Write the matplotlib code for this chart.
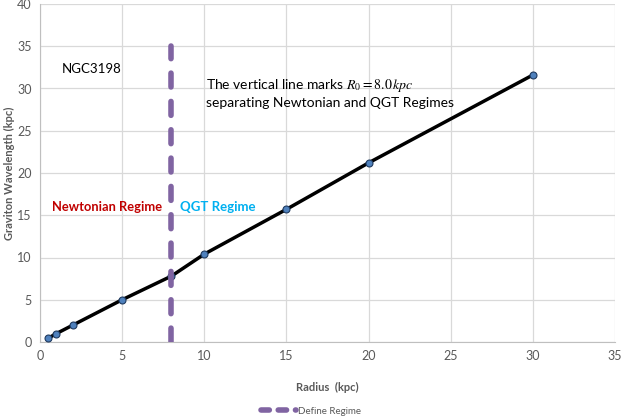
import numpy as np
import matplotlib.pyplot as plt

plt.rcParams['font.family'] = ['Lato', 'DejaVu Sans']
plt.rcParams['mathtext.fontset'] = 'stix'

# Graviton wavelength vs radius, NGC3198
radius = [0.5, 1, 2, 5, 8, 10, 15, 20, 30]
wavelength = [0.45, 1.0, 2.0, 5.0, 7.8, 10.4, 15.7, 21.2, 31.6]

regime_x = [8, 8]
regime_y = [0, 35]

grey = '#595959'
grid_col = '#D9D9D9'

fig = plt.figure(figsize=(6.22, 4.18), dpi=100)
ax = fig.add_axes([40 / 622, 76 / 418, 575 / 622, 338 / 418])

ax.plot(radius, wavelength, color='black', lw=2.5, marker='o', ms=5,
        mfc='#4F81BD', mec='#1F3A5F', mew=0.8, zorder=3)
ax.plot(regime_x, regime_y, color='#8064A2', lw=4, ls=(0, (2.5, 2.6)),
        dash_capstyle='round', zorder=4, label='Define Regime')

ax.set_xlim(0, 35)
ax.set_ylim(0, 40)
ax.set_xticks(np.arange(0, 36, 5))
ax.set_yticks(np.arange(0, 41, 5))
ax.grid(True, color=grid_col, lw=0.9)
ax.set_axisbelow(True)
for s in ['top', 'right']:
    ax.spines[s].set_visible(False)
for s in ['left', 'bottom']:
    ax.spines[s].set_color('#BFBFBF')
ax.tick_params(length=0, colors=grey, labelsize=9, pad=6)

ax.set_xlabel('Radius  (kpc)', fontsize=8, fontweight='bold', color=grey)
ax.xaxis.set_label_coords(0.5, -40 / 338)
ax.set_ylabel('Graviton Wavelength (kpc)', fontsize=8, fontweight='bold', color=grey)
ax.yaxis.set_label_coords(-25 / 575, 0.5)

ax.text(1.35, 32.3, 'NGC3198', fontsize=9.5, color='black', va='center')
ax.text(10.1, 30.3, r'The vertical line marks $R_0=8.0\,kpc$', fontsize=10, va='center')
ax.text(10.1, 28.3, 'separating Newtonian and QGT Regimes', fontsize=10, va='center')
ax.text(0.75, 16.0, 'Newtonian Regime', fontsize=9.3, fontweight='bold', color='#C00000', va='center')
ax.text(8.5, 16.0, 'QGT Regime', fontsize=9.5, fontweight='bold', color='#00B0F0', va='center')

leg = fig.legend(loc='center', bbox_to_anchor=(0.5, 7 / 418), frameon=False, fontsize=7,
                 handlelength=3.6, handletextpad=0.3)
for t in leg.get_texts():
    t.set_color(grey)
for h in leg.get_lines():
    h.set_linestyle((0, (1.5, 1.6)))

fig.savefig('out.png', dpi=100)
